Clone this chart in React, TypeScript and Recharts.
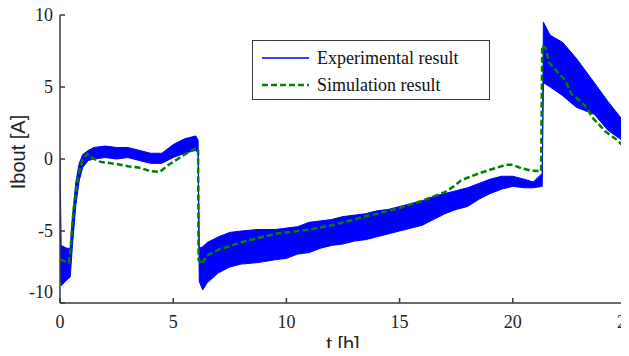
import { Area, ComposedChart, Legend, Line, XAxis, YAxis } from 'recharts'

// experimental current, read as the min/max envelope of the noisy trace
const expTime = [
  0, 0.05, 0.3, 0.45, 0.55, 0.7, 0.85, 1.0, 1.25, 1.5, 2.0, 2.5, 3.0, 3.5, 4.0, 4.5, 5.0, 5.5, 6.0, 6.1,
  6.15, 6.3, 6.5, 7.0, 7.5, 8.0, 8.7, 9.5, 10.0, 10.5, 11.0, 11.5, 12.0, 12.5, 13.0, 13.5, 14.0, 14.5,
  15.0, 15.5, 16.0, 16.5, 17.0, 17.5, 18.0, 18.5, 19.0, 19.5, 20.0, 20.5, 20.9, 21.3, 21.35, 21.65, 22.2,
  22.8, 23.6, 24.2, 25.0,
]
const expLow = [
  -7, -8.8, -8.4, -8.2, -6.0, -3.2, -1.5, -0.6, -0.1, 0.0, 0.1, 0.0, 0.1, -0.1, -0.3, -0.3, 0.1, 0.4, 0.6, 0.4,
  -8.5, -9.1, -8.6, -7.9, -7.5, -7.3, -7.2, -7.0, -6.9, -6.6, -6.5, -6.2, -6.0, -5.9, -5.7, -5.6, -5.4, -5.2,
  -5.0, -4.8, -4.6, -4.2, -3.8, -3.5, -3.3, -2.8, -2.4, -2.1, -1.9, -2.0, -2.0, -1.9, 5.3, 5.0, 4.4,
  3.6, 3.1, 2.0, 1.1,
]
const expHigh = [
  0, -6.0, -6.2, -6.2, -4.0, -1.6, -0.3, 0.3, 0.6, 0.8, 0.9, 0.8, 0.8, 0.6, 0.4, 0.4, 1.0, 1.4, 1.6, 1.3,
  -6.2, -6.1, -5.8, -5.4, -5.1, -5.0, -4.9, -4.9, -4.8, -4.7, -4.4, -4.3, -4.2, -4.0, -3.9, -3.8, -3.6, -3.5,
  -3.3, -3.1, -2.9, -2.6, -2.4, -2.2, -2.0, -1.7, -1.4, -1.2, -1.2, -1.4, -1.6, -1.0, 9.5, 8.6, 8.1,
  7.0, 5.3, 4.0, 2.4,
]

const simTime = [
  0, 0.4, 0.45, 0.6, 0.8, 1.0, 1.2, 1.4, 1.8, 2.5, 3.0, 3.5, 4.0, 4.4, 4.8, 5.2, 5.6, 6.0, 6.1, 6.12,
  6.25, 6.5, 7.0, 8.0, 8.7, 9.5, 10.0, 11.0, 12.0, 13.0, 13.4, 14.0, 15.0, 15.6, 16.0, 16.5, 17.0, 17.4,
  17.7, 18.0, 18.5, 19.0, 19.7, 20.0, 20.3, 20.8, 21.25, 21.3, 21.45, 21.6, 22.0, 22.3, 22.6, 23.0, 23.3,
  23.5, 24.1, 24.5, 25.0,
]
const simCurrent = [
  -7.0, -7.2, -6.5, -3.5, -1.2, 0.0, 0.35, 0.1, -0.2, -0.35, -0.5, -0.6, -0.85, -0.9, -0.4, 0.0, 0.4, 0.75, 0.7, -7.0,
  -7.3, -6.7, -6.3, -5.8, -5.5, -5.2, -5.1, -4.9, -4.6, -4.2, -4.0, -3.8, -3.4, -3.1, -2.9, -2.6, -2.3, -1.9,
  -1.5, -1.3, -1.0, -0.75, -0.4, -0.4, -0.6, -0.8, -0.85, 7.9, 7.7, 6.7, 6.0, 5.5, 4.5, 4.0, 3.5,
  2.9, 1.9, 1.45, 0.75,
]

const xTicks = [0, 5, 10, 15, 20, 25]
const yTicks = [-10, -5, 0, 5, 10]

const expData = expTime.map((t, i) => ({ t, band: [expLow[i], expHigh[i]] }))
const simData = simTime.map((t, i) => ({ t, sim: simCurrent[i] }))

const FRAME = '#3a3a3a'
const SERIF = '"Liberation Serif", "Times New Roman", serif'
const SANS = '"Liberation Sans", Arial, sans-serif'
const TICK_LEN = 5

function BottomTick({ x, y, payload }: any) {
  return (
    <g>
      <line x1={x} y1={y} x2={x} y2={y - TICK_LEN} stroke={FRAME} strokeWidth={1.5} />
      <text x={x} y={y + 19} textAnchor="middle" dominantBaseline="central" fontFamily={SERIF} fontSize={18} fill="#222">
        {payload.value}
      </text>
    </g>
  )
}

function TopTick({ x, y }: any) {
  return <line x1={x} y1={y} x2={x} y2={y + TICK_LEN} stroke={FRAME} strokeWidth={1.5} />
}

function LeftTick({ x, y, payload }: any) {
  // the -10 label sits a little above its tick in the original
  const dy = payload.value === -10 ? -11 : 0
  return (
    <g>
      <line x1={x} y1={y} x2={x + TICK_LEN} y2={y} stroke={FRAME} strokeWidth={1.5} />
      <text x={x - 7} y={y + dy} textAnchor="end" dominantBaseline="central" fontFamily={SERIF} fontSize={18} fill="#222">
        {payload.value}
      </text>
    </g>
  )
}

function RightTick({ x, y }: any) {
  return <line x1={x} y1={y} x2={x - TICK_LEN} y2={y} stroke={FRAME} strokeWidth={1.5} />
}

function xLabel({ viewBox }: any) {
  const cx = viewBox.x + viewBox.width / 2
  return (
    <text x={cx} y={viewBox.y + 41} textAnchor="middle" dominantBaseline="central" fontFamily={SANS} fontSize={20} fill="#222">
      t [h]
    </text>
  )
}

function yLabel({ viewBox }: any) {
  const cx = viewBox.x + 18
  const cy = viewBox.y + viewBox.height / 2 - 7
  return (
    <text
      x={cx}
      y={cy}
      transform={`rotate(-90 ${cx} ${cy})`}
      textAnchor="middle"
      dominantBaseline="central"
      fontFamily={SANS}
      fontSize={20}
      fill="#222"
    >
      Ibout [A]
    </text>
  )
}

function LegendBox() {
  return (
    <div
      style={{
        position: 'relative',
        width: 238,
        height: 60,
        border: `1.5px solid ${FRAME}`,
        background: '#fff',
        boxSizing: 'border-box',
        fontFamily: SERIF,
        fontSize: 18,
        color: '#111',
      }}
    >
      <svg width={48} height={60} style={{ position: 'absolute', left: 9, top: 0 }}>
        <line x1={0} y1={17} x2={47} y2={17} stroke="#0000ff" strokeWidth={1.5} />
        <line x1={0} y1={44} x2={47} y2={44} stroke="#008000" strokeWidth={2.5} strokeDasharray="6 3" />
      </svg>
      <div style={{ position: 'absolute', left: 64, top: 5, lineHeight: '24px' }}>Experimental result</div>
      <div style={{ position: 'absolute', left: 64, top: 32, lineHeight: '24px' }}>Simulation result</div>
    </div>
  )
}

export default function App() {
  return (
    <div style={{ margin: -8, width: 629, height: 356 }}>
      <ComposedChart width={629} height={356} margin={{ top: 15, right: 3, bottom: 0, left: 0 }}>
        <XAxis
          dataKey="t"
          type="number"
          domain={[0, 25]}
          ticks={xTicks}
          interval={0}
          allowDataOverflow
          height={53}
          tickSize={0}
          tickMargin={0}
          tickLine={false}
          axisLine={{ stroke: FRAME, strokeWidth: 1.5 }}
          tick={<BottomTick />}
          label={xLabel}
        />
        <XAxis
          xAxisId="top"
          orientation="top"
          dataKey="t"
          type="number"
          domain={[0, 25]}
          ticks={xTicks}
          interval={0}
          allowDataOverflow
          height={0}
          tickSize={0}
          tickMargin={0}
          tickLine={false}
          axisLine={{ stroke: FRAME, strokeWidth: 1.5 }}
          tick={<TopTick />}
        />
        <YAxis
          type="number"
          domain={[-10, 10]}
          ticks={yTicks}
          interval={0}
          allowDataOverflow
          width={60}
          tickSize={0}
          tickMargin={0}
          tickLine={false}
          axisLine={{ stroke: FRAME, strokeWidth: 1.5 }}
          tick={<LeftTick />}
          label={yLabel}
        />
        <YAxis
          yAxisId="right"
          orientation="right"
          type="number"
          domain={[-10, 10]}
          ticks={yTicks}
          interval={0}
          allowDataOverflow
          width={0}
          tickSize={0}
          tickMargin={0}
          tickLine={false}
          axisLine={{ stroke: FRAME, strokeWidth: 1.5 }}
          tick={<RightTick />}
        />
        <Area
          data={expData}
          dataKey="band"
          type="linear"
          stroke="#0000ff"
          strokeWidth={1}
          fill="#0000ff"
          fillOpacity={1}
          isAnimationActive={false}
          dot={false}
          activeDot={false}
        />
        <Line
          data={simData}
          dataKey="sim"
          type="linear"
          stroke="#008000"
          strokeWidth={2.5}
          strokeDasharray="6 3"
          dot={false}
          activeDot={false}
          isAnimationActive={false}
        />
        <Legend
          layout="horizontal"
          verticalAlign="middle"
          align="center"
          content={<LegendBox />}
          wrapperStyle={{ left: 252, top: 40, width: 238, height: 60 }}
        />
      </ComposedChart>
    </div>
  )
}
